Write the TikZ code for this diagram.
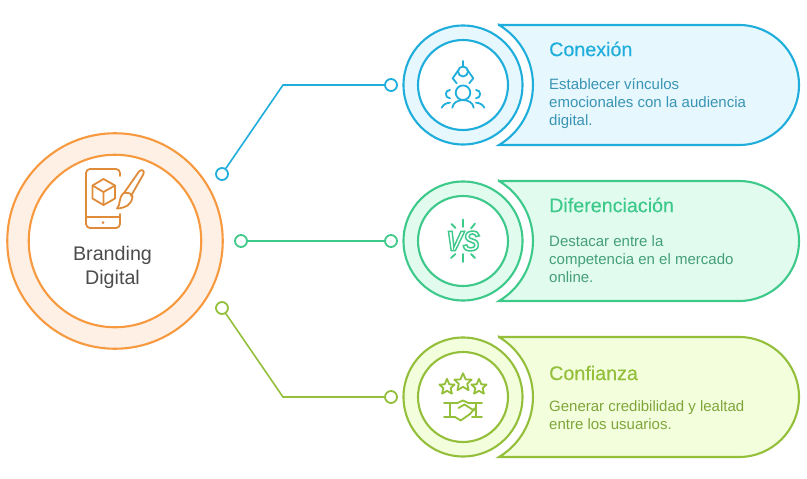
\documentclass[tikz,border=0pt]{standalone}
\usepackage{fontspec}
\setmainfont{Liberation Sans}
\newfontfamily\ttlfont[FakeBold=0.25]{Liberation Sans}
\definecolor{oline}{HTML}{F7993F}
\definecolor{ofill}{HTML}{FFF0E5}
\definecolor{oicon}{HTML}{E08B3A}
\definecolor{bline}{HTML}{1FAEDB}
\definecolor{bfill}{HTML}{E6F7FE}
\definecolor{btext}{HTML}{3A94B4}
\definecolor{gline}{HTML}{3CC98A}
\definecolor{gfill}{HTML}{E1FCEF}
\definecolor{gtext}{HTML}{459E7A}
\definecolor{lline}{HTML}{93BF3A}
\definecolor{lfill}{HTML}{F3FEDD}
\definecolor{ltext}{HTML}{7FA53A}
\tikzset{
  x=1pt,y=-1pt,
  ring/.style={circle,draw=#1,line width=2.1pt,inner sep=0pt},
  dotn/.style={circle,draw=#1,fill=white,line width=1.8pt,minimum size=12pt,inner sep=0pt},
  link/.style={draw=#1,line width=1.6pt},
  ttl/.style={anchor=west,font=\ttlfont\fontsize{19.7}{22}\selectfont,text=#1,inner sep=0pt},
  body/.style={anchor=north west,align=left,font=\fontsize{15}{18}\selectfont,text=#1,inner sep=0pt},
  ico/.style={draw=#1,line width=1.8pt,line cap=round,line join=round},
}
\newcommand{\pillshape}[3]{% y centre, line, fill
  \path[draw=#2,fill=#3,line width=2.1pt,line join=miter]
    (499,#1-60) -- (739,#1-60) arc[start angle=90,end angle=-90,radius=60pt]
    -- (499,#1+60) arc[start angle=-59,end angle=59,radius=70pt] -- cycle;
}
\begin{document}
\begin{tikzpicture}
\useasboundingbox (0,0) rectangle (807,479);
\fill[white] (0,0) rectangle (807,479);

% centre
\node[ring=oline,fill=ofill,minimum size=215.5pt] (hubo) at (115,241) {};
\node[ring=oline,fill=white,minimum size=172.5pt] (hubi) at (115,241) {};
\node[align=center,font=\fontsize{19.7}{24}\selectfont,text=black!70,inner sep=0pt] (hubt) at (112.5,267) {Branding\\Digital};

% phone + brush icon
\draw[ico=oicon,rounded corners=4pt] (120,176) -- (120,169) -- (86,169) -- (86,228) -- (120,228) -- (120,214);
\draw[ico=oicon] (86,217) -- (120,217);
\fill[oicon] (103,222.5) circle (1.5);
\draw[ico=oicon] (103.5,179) -- (115,185.5) -- (115,198.5) -- (103.5,205) -- (92.5,198.5) -- (92.5,185.5) -- cycle;
\draw[ico=oicon] (92.5,185.5) -- (103.5,192) -- (115,185.5) (103.5,192) -- (103.5,205);
\draw[ico=oicon] (124,193) -- (139,171.5) .. controls (141,169) and (145,170) .. (143.5,174) -- (131,196);
\draw[ico=oicon] (124,193) .. controls (128,192) and (133,194) .. (132.5,197) .. controls (132,203) and (127,208) .. (117,208.5) .. controls (121,205) and (118,197) .. (124,193);

% connectors
\node[dotn=bline] (d1) at (222,174) {};
\node[dotn=gline] (d2) at (241,241) {};
\node[dotn=lline] (d3) at (222,308) {};
\node[dotn=bline] (e1) at (391,85) {};
\node[dotn=gline] (e2) at (391,241) {};
\node[dotn=lline] (e3) at (391,397) {};
\coordinate (k1) at (283,85);
\coordinate (k3) at (283,397);
\draw[link=bline] (d1) -- (k1) -- (e1);
\draw[link=gline] (d2) -- (e2);
\draw[link=lline] (d3) -- (k3) -- (e3);

% pills
\pillshape{85}{bline}{bfill}
\pillshape{241}{gline}{gfill}
\pillshape{397}{lline}{lfill}

% rings
\node[ring=bline,fill=bfill,minimum size=119pt] (r1o) at (463,85) {};
\node[ring=bline,fill=white,minimum size=90pt] (r1i) at (463,85) {};
\node[ring=gline,fill=gfill,minimum size=119pt] (r2o) at (463,241) {};
\node[ring=gline,fill=white,minimum size=90pt] (r2i) at (463,241) {};
\node[ring=lline,fill=lfill,minimum size=119pt] (r3o) at (463,397) {};
\node[ring=lline,fill=white,minimum size=90pt] (r3i) at (463,397) {};

% text
\node[ttl=bline] (t1) at (549,49) {Conexión};
\node[body=btext] (b1) at (549,78.5) {Establecer vínculos\\emocionales con la audiencia\\digital.};
\node[ttl=gline] (t2) at (549,205) {Diferenciación};
\node[body=gtext] (b2) at (549,235) {Destacar entre la\\competencia en el mercado\\online.};
\node[ttl=lline] (t3) at (549,373) {Confianza};
\node[body=ltext] (b3) at (549,400) {Generar credibilidad y lealtad\\entre los usuarios.};

% blue icon
\draw[ico=bline] (463,61) -- (463,66.5);
\draw[ico=bline] (463,71.5) circle (5);
\draw[ico=bline] (458.5,70) -- (452.7,78.3) -- (456.7,83.3);
\draw[ico=bline] (467.5,70) -- (473.3,78.3) -- (469.3,83.3);
\draw[ico=bline] (463,92.7) circle (7.3);
\draw[ico=bline] (452.3,107.7) .. controls (453.5,97.5) and (472.5,97.5) .. (473.7,107.7);
\draw[ico=bline] (450,90) .. controls (444.5,90) and (444.5,98) .. (450,98.3);
\draw[ico=bline] (476,90) .. controls (481.5,90) and (481.5,98) .. (476,98.3);
\draw[ico=bline] (441.7,107.7) .. controls (443,104.5) and (447,102.7) .. (450,102.7);
\draw[ico=bline] (484.3,107.7) .. controls (483,104.5) and (479,102.7) .. (476,102.7);

% VS icon
\node[inner sep=0pt,text=gline,font=\bfseries\itshape\fontsize{25}{25}\selectfont,yscale=1.12,transform shape] (vs) at (463,241) {\special{pdf:code 1 Tr 1.4 w}VS\special{pdf:code 0 Tr}};
\draw[ico=gline] (463,219.5) -- (463,227) (463,254) -- (463,262) (451.5,224) -- (455.5,228) (475,223.5) -- (471,228.5) (451,258) -- (455.5,254) (475,258) -- (471,254);

% lime icon
\foreach \cx/\cy/\r in {447/387/0.86,463/382.5/0.98,479/387/0.86}{
  \draw[ico=lline] (\cx,\cy-9.5*\r) -- (\cx+2.7*\r,\cy-3.1*\r) -- (\cx+8.8*\r,\cy-2.9*\r) -- (\cx+4.3*\r,\cy+1.3*\r) -- (\cx+5.7*\r,\cy+7.8*\r) -- (\cx,\cy+4.4*\r) -- (\cx-5.7*\r,\cy+7.8*\r) -- (\cx-4.3*\r,\cy+1.3*\r) -- (\cx-8.8*\r,\cy-2.9*\r) -- (\cx-2.7*\r,\cy-3.1*\r) -- cycle;
}
\draw[ico=lline] (444,402.7) -- (458,402.7) (450,402.7) -- (450,417) (444,417) -- (455,417);
\draw[ico=lline] (468,402.7) -- (482,402.7) (476,402.7) -- (476,417) (472,417) -- (482,417);
\draw[ico=lline] (458,402.7) -- (463,400.5) -- (468,402.7);
\draw[ico=lline] (455,417) -- (460.7,420.5) -- (470,414) -- (475,408);
\draw[ico=lline] (458.5,408) -- (464.5,404.5) -- (474,410.5);
\end{tikzpicture}
\end{document}
